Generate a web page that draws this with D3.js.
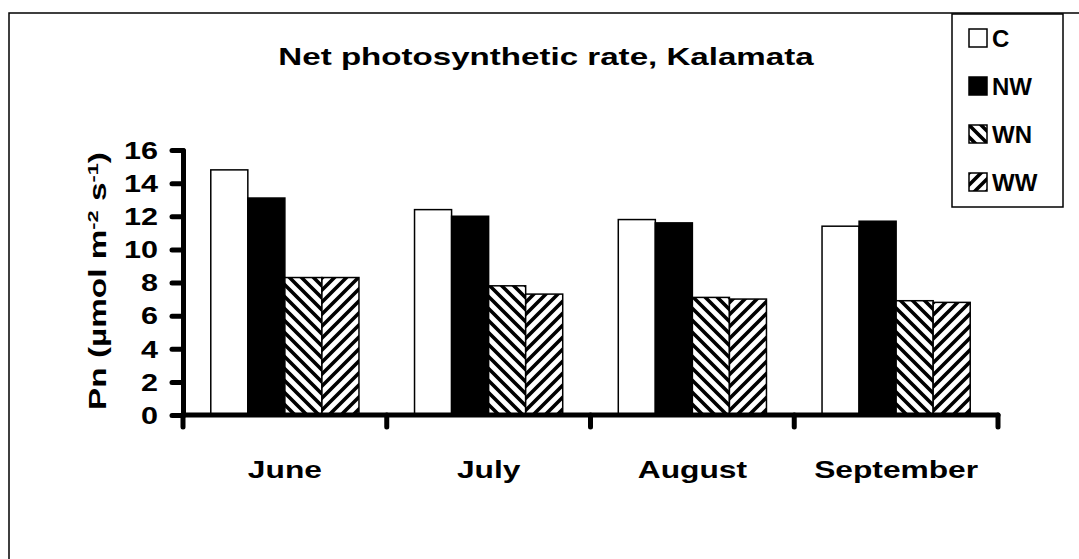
<!DOCTYPE html>
<html>
<head>
<meta charset="utf-8">
<script src="https://cdn.jsdelivr.net/npm/d3@7"></script>
<style>
  body { margin: 0; background: #fff; }
  text { font-family: "Liberation Sans", Arial, sans-serif; font-weight: bold; fill: #000; }
</style>
</head>
<body>
<svg id="svg1" width="1079" height="559"></svg>
<script>
var months = ["June", "July", "August", "September"];
var series = ["C", "NW", "WN", "WW"];
var valC  = [14.8, 12.4, 11.8, 11.4];
var valNW = [13.1, 12.0, 11.6, 11.7];
var valWN = [8.3, 7.8, 7.1, 6.9];
var valWW = [8.3, 7.3, 7.0, 6.8];
var yTicks = [0, 2, 4, 6, 8, 10, 12, 14, 16];

var values = {C: valC, NW: valNW, WN: valWN, WW: valWW};
var fills = {C: "#fff", NW: "#000", WN: "url(#hatchWN)", WW: "url(#hatchWW)"};

var svg = d3.select("#svg1");

// hatch patterns
var defs = svg.append("defs");
function hatch(id, back) {
  var p = defs.append("pattern").attr("id", id)
    .attr("patternUnits", "userSpaceOnUse")
    .attr("width", 12).attr("height", 12);
  p.append("rect").attr("width", 12).attr("height", 12).attr("fill", "#fff");
  var d = back ? "M-3,-3L15,15M-3,9L3,15M9,-3L15,3" : "M-3,15L15,-3M-3,3L3,-3M9,15L15,9";
  p.append("path").attr("d", d).attr("stroke", "#000").attr("stroke-width", 3.6);
}
hatch("hatchWN", true);
hatch("hatchWW", false);

// outer frame
svg.append("rect").attr("x", 9).attr("y", 13).attr("width", 1200).attr("height", 700)
  .attr("fill", "none").attr("stroke", "#000").attr("stroke-width", 1.5);

var x = d3.scaleBand().domain(months).range([183, 998]).padding(0);
var xs = d3.scaleBand().domain(series).range([0, x.bandwidth()]).paddingInner(0).paddingOuter(0.75);
var y = d3.scaleLinear().domain([0, 16]).range([415, 150]);

// bars
var g = svg.append("g");
series.forEach(function(s) {
  g.selectAll(".bar-" + s)
    .data(months)
    .enter().append("rect")
      .attr("class", "bar-" + s)
      .attr("x", function(d) { return x(d) + xs(s); })
      .attr("width", xs.bandwidth())
      .attr("y", function(d, i) { return y(values[s][i]); })
      .attr("height", function(d, i) { return y(0) - y(values[s][i]); })
      .attr("fill", fills[s])
      .attr("stroke", "#000").attr("stroke-width", 1.5);
});

// y axis (labels widened: the source chart was stretched sideways)
var yAxis = svg.append("g")
  .attr("transform", "translate(183,0)")
  .call(d3.axisLeft(y).tickValues(yTicks).tickSize(11).tickSizeOuter(0));
yAxis.select(".domain").attr("stroke-width", 5).attr("stroke-linecap", "round");
yAxis.selectAll(".tick line").attr("stroke-width", 5).attr("stroke-linecap", "round");
yAxis.selectAll(".tick text")
  .attr("x", 0).attr("dy", "0.36em")
  .attr("transform", "translate(-25,0) scale(1.33,1)")
  .style("font-size", "23px");

// x axis
var xAxis = svg.append("g");
xAxis.append("line").attr("x1", 183).attr("x2", 998).attr("y1", 415).attr("y2", 415)
  .attr("stroke", "#000").attr("stroke-width", 5).attr("stroke-linecap", "round");
var bounds = months.map(function(m) { return x(m); }).concat([x(months[3]) + x.bandwidth()]);
xAxis.selectAll(".xtick").data(bounds).enter().append("line")
  .attr("x1", function(d) { return d; }).attr("x2", function(d) { return d; })
  .attr("y1", 415).attr("y2", 427)
  .attr("stroke", "#000").attr("stroke-width", 5).attr("stroke-linecap", "round");
xAxis.selectAll(".xlab").data(months).enter().append("text")
  .attr("transform", function(d) {
    return "translate(" + (x(d) + x.bandwidth() / 2) + ",478) scale(1.38,1)";
  })
  .attr("text-anchor", "middle")
  .style("font-size", "23px")
  .text(function(d) { return d; });

// y title
var yt = svg.append("text")
  .attr("transform", "translate(106,281) rotate(-90) scale(1.45,1)")
  .attr("text-anchor", "middle")
  .style("font-size", "23px");
yt.append("tspan").text("Pn (µmol m");
yt.append("tspan").attr("baseline-shift", "super").style("font-size", "15px").text("-2");
yt.append("tspan").text(" s");
yt.append("tspan").attr("baseline-shift", "super").style("font-size", "15px").text("-1");
yt.append("tspan").text(")");

// title
svg.append("text").attr("transform", "translate(546,65) scale(1.38,1)")
  .attr("text-anchor", "middle")
  .style("font-size", "24px").text("Net photosynthetic rate, Kalamata");

// legend
var leg = svg.append("g");
leg.append("rect").attr("x", 952).attr("y", 14).attr("width", 111).attr("height", 193)
  .attr("fill", "#fff").attr("stroke", "#000").attr("stroke-width", 1.5);
var li = leg.selectAll(".li").data(series).enter().append("g")
  .attr("transform", function(d, i) { return "translate(969," + (29 + i * 48) + ")"; });
li.append("rect").attr("width", 18).attr("height", 18)
  .attr("fill", function(d) { return fills[d]; })
  .attr("stroke", "#000").attr("stroke-width", 1.5);
li.append("text").attr("x", 23).attr("y", 18).style("font-size", "24px")
  .text(function(d) { return d; });
</script>
</body>
</html>
